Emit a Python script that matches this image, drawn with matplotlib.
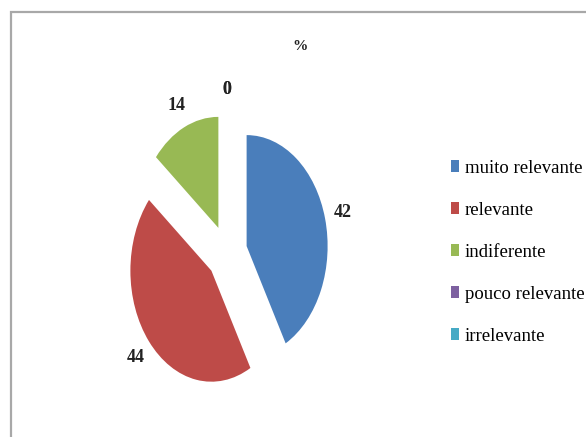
import matplotlib
matplotlib.use("Agg")
import matplotlib.pyplot as plt
from matplotlib.patches import Rectangle

plt.rcParams["font.family"] = ["Liberation Serif", "DejaVu Serif"]

# data
categories = ["muito relevante", "relevante", "indiferente", "pouco relevante", "irrelevante"]
values = [42, 44, 14, 0, 0]
colors = ["#4a7ebb", "#be4b48", "#98b954", "#7d60a0", "#46aac5"]
title = "%"

W, H = 586, 437
fig = plt.figure(figsize=(W / 100, H / 100), dpi=100)
fig.patch.set_facecolor("white")

# pie axes: centre ~(227,253) px, 81 px per unit in x, 111 px per unit in y
cx, cy, rx, ry = 227, 253, 81, 111
x0, x1 = -2.0, 2.0
y0, y1 = -1.6, 1.9
ax = fig.add_axes([(cx + x0 * rx) / W, (H - (cy - y0 * ry)) / H,
                   (x1 - x0) * rx / W, (y1 - y0) * ry / H])

wedges, texts = ax.pie(values, colors=colors, startangle=90, counterclock=False,
                       explode=[0.25] * len(values),
                       labels=[str(v) for v in values], labeldistance=1.22,
                       textprops=dict(fontsize=13, fontweight="bold", color="#222222"))
for t in texts:
    t.set_ha("center")
    t.set_va("center")
ax.set_aspect("auto")
ax.set_xlim(x0, x1)
ax.set_ylim(y0, y1)

fig.text(300 / W, 1 - 47 / H, title, ha="center", va="center",
         fontsize=11, fontweight="bold", color="#222222")

fig.legend(wedges, categories, loc="upper left",
           bbox_to_anchor=(451 / W, 1 - 160 / H), frameon=False,
           borderpad=0, borderaxespad=0, handlelength=0.45, handleheight=0.6,
           handletextpad=0.3, labelspacing=1.33, fontsize=13.5)

# outer chart border (runs off right and bottom edges)
fig.add_artist(Rectangle((11 / W, -0.1), 1.2, 1.1 + (H - 12) / H - 1.0,
                         transform=fig.transFigure, fill=False,
                         edgecolor="#a8a8a8", lw=1.6))

fig.savefig("out.png", dpi=100)
